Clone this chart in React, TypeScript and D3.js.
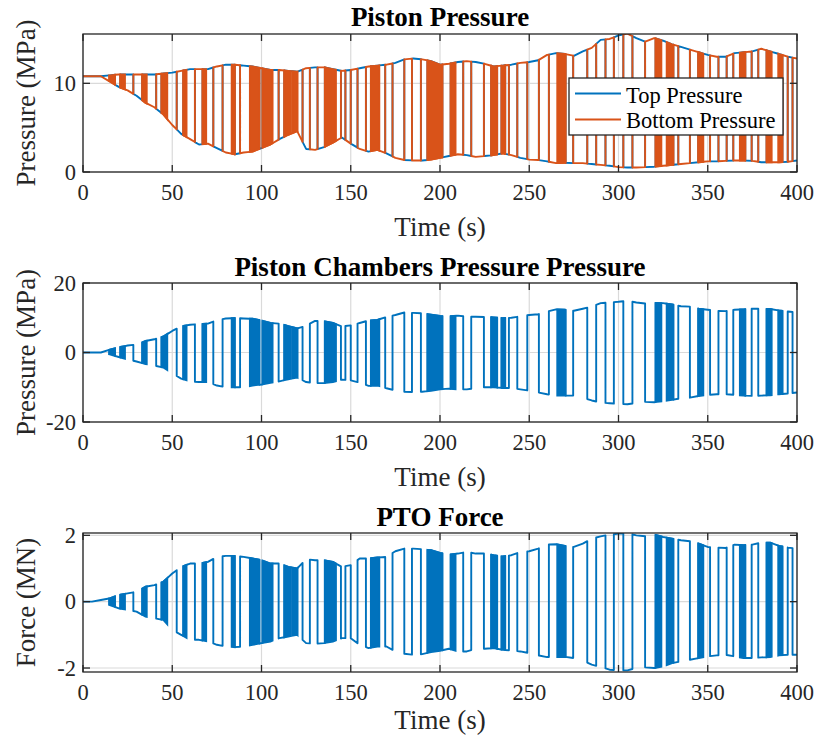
import React from "react";
import * as d3 from "d3";

// ---------- data ----------
const xTickValues = [0, 50, 100, 150, 200, 250, 300, 350, 400];

// envelope sample times (s)
const envT = d3.range(0, 401, 5);

// Panel 1: high and low pressure envelopes (MPa)
const pHigh = [10.8, 10.8, 10.8, 10.9, 11.0, 11.0, 11.0, 11.0, 11.0, 11.1, 11.2, 11.4, 11.6, 11.6, 11.6, 11.9, 12.1, 12.1, 12.0, 11.9,
  11.7, 11.5, 11.5, 11.4, 11.3, 11.7, 11.8, 11.8, 11.6, 11.4, 11.5, 11.7, 11.9, 12.0, 12.1, 12.3, 12.7, 12.8, 12.7, 12.5,
  12.1, 12.2, 12.4, 12.5, 12.4, 12.2, 11.9, 12.0, 12.1, 12.3, 12.4, 12.6, 13.2, 13.4, 13.3, 13.1, 13.6, 14.0, 14.9, 15.0,
  15.4, 15.6, 15.1, 14.7, 15.1, 14.8, 14.4, 14.1, 13.8, 13.5, 13.2, 13.0, 13.0, 13.4, 13.5, 13.6, 13.9, 13.6, 13.3, 13.0, 12.8];
const pLow = [10.8, 10.8, 10.8, 10.2, 9.6, 9.2, 8.6, 7.8, 7.3, 6.5, 5.3, 4.3, 3.7, 3.1, 3.2, 2.7, 2.2, 2.0, 2.2, 2.3,
  2.7, 3.1, 3.7, 4.2, 4.6, 2.6, 2.5, 2.8, 3.3, 3.9, 3.2, 2.6, 2.3, 2.5, 2.1, 1.6, 1.35, 1.3, 1.3, 1.4,
  1.6, 1.8, 2.0, 1.9, 1.7, 1.8, 1.9, 2.1, 1.9, 1.6, 1.4, 1.35, 1.2, 1.0, 1.05, 1.0, 1.0, 0.9, 0.8, 0.7,
  0.55, 0.5, 0.5, 0.55, 0.6, 0.7, 0.8, 0.9, 1.0, 1.1, 1.2, 1.2, 1.25, 1.3, 1.3, 1.25, 1.1, 1.1, 1.1, 1.15, 1.3];

// Panel 2: chamber pressure difference envelopes (MPa)
const dPos = [0, 0, 0, 0.8, 1.5, 2.0, 2.3, 3.3, 3.8, 4.6, 6.2, 7.5, 8.0, 8.2, 8.3, 9.3, 9.8, 9.9, 9.8, 9.7,
  9.2, 8.5, 8.3, 7.6, 6.9, 7.7, 9.1, 9.0, 8.5, 7.5, 7.8, 8.5, 9.2, 9.4, 10.2, 10.8, 11.5, 11.4, 11.3, 10.9,
  10.5, 10.4, 10.6, 10.3, 10.3, 10.2, 10.1, 9.9, 10.0, 10.4, 10.8, 11.0, 11.8, 12.4, 12.3, 12.0, 12.6, 13.2, 14.2, 14.4,
  14.6, 14.9, 14.4, 14.1, 14.3, 14.2, 13.8, 13.3, 13.2, 12.6, 12.3, 12.0, 11.9, 12.3, 12.4, 12.6, 12.6, 12.5, 12.1, 11.8, 11.5];
const dNeg = [0, 0, 0, -0.5, -1.3, -2.0, -2.6, -3.3, -3.8, -4.3, -6.0, -7.5, -8.3, -8.5, -8.5, -9.5, -10.0, -10.0, -10.0, -9.5,
  -9.2, -8.7, -8.3, -7.7, -7.2, -8.5, -8.8, -8.8, -8.5, -7.8, -8.0, -8.7, -9.6, -9.5, -10.3, -10.9, -11.3, -11.4, -11.3, -11.0,
  -10.6, -10.4, -10.6, -10.6, -10.3, -10.0, -10.0, -10.2, -10.2, -10.6, -11.0, -11.5, -12.0, -12.4, -12.4, -12.4, -13.0, -13.8, -14.4, -14.6,
  -14.8, -14.9, -14.5, -14.2, -14.3, -14.0, -13.6, -13.2, -13.0, -12.5, -12.2, -12.0, -12.0, -12.2, -12.4, -12.5, -12.4, -12.3, -12.0, -11.8, -11.5];

// Panel 3: PTO force envelopes (MN)
const fPos = [0, 0, 0.05, 0.1, 0.2, 0.25, 0.3, 0.45, 0.5, 0.6, 0.85, 1.05, 1.15, 1.15, 1.2, 1.35, 1.38, 1.38, 1.35, 1.3,
  1.25, 1.15, 1.15, 1.05, 1.0, 1.28, 1.25, 1.25, 1.2, 1.05, 1.1, 1.3, 1.3, 1.33, 1.35, 1.52, 1.6, 1.6, 1.58, 1.55,
  1.47, 1.42, 1.45, 1.5, 1.45, 1.45, 1.4, 1.36, 1.4, 1.5, 1.52, 1.6, 1.72, 1.73, 1.68, 1.65, 1.75, 1.9, 1.97, 2.02,
  2.05, 2.07, 2.0, 1.97, 2.02, 1.95, 1.9, 1.85, 1.82, 1.75, 1.65, 1.63, 1.62, 1.72, 1.7, 1.72, 1.78, 1.78, 1.68, 1.63, 1.6];
const fNeg = [0, 0, 0, -0.1, -0.2, -0.25, -0.3, -0.45, -0.5, -0.55, -0.85, -1.0, -1.15, -1.15, -1.2, -1.3, -1.35, -1.37, -1.35, -1.3,
  -1.25, -1.2, -1.1, -1.05, -1.0, -1.25, -1.27, -1.25, -1.2, -1.1, -1.1, -1.3, -1.4, -1.35, -1.35, -1.5, -1.57, -1.6, -1.58, -1.52,
  -1.48, -1.42, -1.5, -1.5, -1.42, -1.42, -1.4, -1.45, -1.47, -1.5, -1.55, -1.62, -1.67, -1.67, -1.66, -1.7, -1.77, -1.9, -1.97, -2.05,
  -2.07, -2.07, -2.0, -1.98, -2.0, -1.95, -1.85, -1.8, -1.75, -1.7, -1.65, -1.62, -1.6, -1.65, -1.7, -1.7, -1.68, -1.67, -1.62, -1.6, -1.6];

// Switching segments: start time (s) and state (H = top chamber high, L = top chamber low, D = rapid switching)
const segStart = [
  0, 14.6, 17.9, 20.9, 23.5, 28.2, 33.2, 35.7, 41, 44,
  47.2, 52.5, 56.2, 58, 62.7, 67, 69, 73, 78.2, 83.3,
  85, 88, 93.5, 98.8, 100.6, 106.2, 109.6, 112.8, 116.5, 117.4,
  120.2, 123, 127.1, 131.4, 135.5, 141.7, 144.5, 147, 150, 153.8,
  158.5, 161.3, 166, 169.3, 173.4, 180, 184.3, 189.3, 193, 201.3,
  206, 208.7, 213, 217.5, 224.6, 228.7, 232, 234.5, 236.5, 238.6,
  243.3, 248.9, 255.4, 261, 265.7, 270.3, 274.6, 282.5, 287.5, 292.7,
  297.4, 302.7, 307.8, 314.9, 320.8, 324, 327, 330.7, 333.5, 340,
  344.7, 347.5, 351.3, 356, 360.6, 364.3, 368, 371, 374.6, 378.3,
  383, 385.8, 389.5, 391.8, 394.8, 397.5];
const segState = [
  "H", "D", "L", "D", "H", "L", "D", "H", "L", "D",
  "H", "L", "D", "H", "L", "D", "H", "L", "H", "D",
  "L", "H", "D", "L", "D", "H", "L", "D", "H", "D",
  "H", "L", "H", "L", "D", "H", "L", "H", "L", "H",
  "L", "D", "H", "L", "H", "L", "H", "L", "D", "L",
  "D", "H", "L", "H", "L", "D", "L", "D", "L", "H",
  "L", "H", "L", "H", "D", "L", "H", "L", "H", "L",
  "H", "L", "H", "L", "D", "H", "D", "L", "H", "L",
  "D", "H", "L", "H", "L", "H", "D", "L", "H", "L",
  "D", "H", "D", "L", "H", "L"];

// ---------- helpers ----------
const BLUE = "#0072BD";
const ORANGE = "#D95319";
const AXIS = "#262626";
const GRID = "#dadada";
const FONT = "'Liberation Serif', 'Times New Roman', serif";
const LW = 1.9;

function envAt(env: number[], t: number) {
  let i = Math.floor(t / 5);
  if (i >= envT.length - 1) i = envT.length - 2;
  const f = (t - envT[i]) / 5;
  return env[i] + (env[i + 1] - env[i]) * f;
}

const segments = segStart.map((t0, i) => ({
  t0,
  t1: i < segStart.length - 1 ? segStart[i + 1] : 400,
  s: segState[i],
}));

function segTimes(t0: number, t1: number) {
  return [t0, ...envT.filter((t) => t > t0 && t < t1), t1];
}

function tracePoints(hi: number[], lo: number[], mapping: Record<string, "hi" | "lo">) {
  const pts: [number, number][] = [];
  segments.forEach((sg) => {
    const env = mapping[sg.s] === "hi" ? hi : lo;
    segTimes(sg.t0, sg.t1).forEach((t) => pts.push([t, envAt(env, t)]));
  });
  return pts;
}

const X0 = 83;
const X1 = 797;
const x = d3.scaleLinear().domain([0, 400]).range([X0, X1]);

type PanelCfg = {
  top: number;
  bottom: number;
  yDomain: [number, number];
  yTicks: number[];
  title: string;
  ylabel: string;
  titleY: number;
  xlabelY: number;
};

function Axes({ cfg, id, children }: { cfg: PanelCfg; id: string; children: (y: d3.ScaleLinear<number, number>) => React.ReactNode }) {
  const y = d3.scaleLinear().domain(cfg.yDomain).range([cfg.bottom, cfg.top]);
  const tick = 7;
  return (
    <g>
      <defs>
        <clipPath id={id}>
          <rect x={X0} y={cfg.top} width={X1 - X0} height={cfg.bottom - cfg.top} />
        </clipPath>
      </defs>
      <rect x={X0} y={cfg.top} width={X1 - X0} height={cfg.bottom - cfg.top} fill="#fff" />
      {xTickValues.map((v) => (
        <line key={"gx" + v} x1={x(v)} x2={x(v)} y1={cfg.top} y2={cfg.bottom} stroke={GRID} strokeWidth={1.2} />
      ))}
      {cfg.yTicks.map((v) => (
        <line key={"gy" + v} x1={X0} x2={X1} y1={y(v)} y2={y(v)} stroke={GRID} strokeWidth={1.2} />
      ))}
      <g clipPath={`url(#${id})`}>{children(y)}</g>
      <rect x={X0} y={cfg.top} width={X1 - X0} height={cfg.bottom - cfg.top} fill="none" stroke={AXIS} strokeWidth={1.3} />
      {xTickValues.map((v) => (
        <g key={"tx" + v}>
          <line x1={x(v)} x2={x(v)} y1={cfg.bottom} y2={cfg.bottom - tick} stroke={AXIS} strokeWidth={1.3} />
          <line x1={x(v)} x2={x(v)} y1={cfg.top} y2={cfg.top + tick} stroke={AXIS} strokeWidth={1.3} />
          <text x={x(v)} y={cfg.bottom + 28} textAnchor="middle" fontSize={22.5} fontFamily={FONT} fill={AXIS}>
            {v}
          </text>
        </g>
      ))}
      {cfg.yTicks.map((v) => (
        <g key={"ty" + v}>
          <line x1={X0} x2={X0 + tick} y1={y(v)} y2={y(v)} stroke={AXIS} strokeWidth={1.3} />
          <line x1={X1} x2={X1 - tick} y1={y(v)} y2={y(v)} stroke={AXIS} strokeWidth={1.3} />
          <text x={X0 - 7} y={y(v) + 7.5} textAnchor="end" fontSize={22.5} fontFamily={FONT} fill={AXIS}>
            {v}
          </text>
        </g>
      ))}
      <text x={(X0 + X1) / 2} y={cfg.titleY} textAnchor="middle" fontSize={27} fontWeight="bold" fontFamily={FONT} fill="#000">
        {cfg.title}
      </text>
      <text x={(X0 + X1) / 2} y={cfg.xlabelY} textAnchor="middle" fontSize={27} fontFamily={FONT} fill={AXIS}>
        Time (s)
      </text>
      <text
        transform={`translate(${35},${(cfg.top + cfg.bottom) / 2}) rotate(-90)`}
        textAnchor="middle"
        fontSize={27}
        fontFamily={FONT}
        fill={AXIS}
      >
        {cfg.ylabel}
      </text>
    </g>
  );
}

function SwitchLayer({
  y,
  hi,
  lo,
  color,
  fill,
  mapping,
}: {
  y: d3.ScaleLinear<number, number>;
  hi: number[];
  lo: number[];
  color: string;
  fill: boolean;
  mapping: Record<string, "hi" | "lo">;
}) {
  const line = d3
    .line<[number, number]>()
    .x((d) => x(d[0]))
    .y((d) => y(d[1]));
  const area = d3
    .area<number>()
    .x((t) => x(t))
    .y0((t) => y(envAt(lo, t)))
    .y1((t) => y(envAt(hi, t)));
  return (
    <g>
      <path d={line(tracePoints(hi, lo, mapping)) || ""} fill="none" stroke={color} strokeWidth={LW} strokeLinejoin="round" />
      {fill &&
        segments
          .filter((s) => s.s === "D")
          .map((s, i) => (
            <path key={i} d={area(segTimes(s.t0, s.t1)) || ""} fill={color} stroke={color} strokeWidth={LW} />
          ))}
    </g>
  );
}

const panel1: PanelCfg = {
  top: 34, bottom: 172, yDomain: [0, 15.56], yTicks: [0, 10],
  title: "Piston Pressure", ylabel: "Pressure (MPa)", titleY: 26, xlabelY: 236,
};
const panel2: PanelCfg = {
  top: 283, bottom: 422, yDomain: [-20, 20], yTicks: [-20, 0, 20],
  title: "Piston Chambers Pressure Pressure", ylabel: "Pressure (MPa)", titleY: 276, xlabelY: 486,
};
const panel3: PanelCfg = {
  top: 533, bottom: 672, yDomain: [-2.12, 2.07], yTicks: [-2, 0, 2],
  title: "PTO Force", ylabel: "Force (MN)", titleY: 526, xlabelY: 729,
};

export default function App() {
  return (
    <div style={{ position: "absolute", left: 0, top: 0 }}>
      <svg width={815} height={745} style={{ display: "block", background: "#fff" }}>
        <Axes cfg={panel1} id="clip1">
          {(y) => (
            <g>
              <SwitchLayer y={y} hi={pHigh} lo={pLow} color={BLUE} fill={false} mapping={{ H: "hi", L: "lo", D: "hi" }} />
              <SwitchLayer y={y} hi={pHigh} lo={pLow} color={ORANGE} fill={true} mapping={{ H: "lo", L: "hi", D: "lo" }} />
            </g>
          )}
        </Axes>
        <Axes cfg={panel2} id="clip2">
          {(y) => <SwitchLayer y={y} hi={dPos} lo={dNeg} color={BLUE} fill={true} mapping={{ H: "hi", L: "lo", D: "hi" }} />}
        </Axes>
        <Axes cfg={panel3} id="clip3">
          {(y) => <SwitchLayer y={y} hi={fPos} lo={fNeg} color={BLUE} fill={true} mapping={{ H: "hi", L: "lo", D: "hi" }} />}
        </Axes>
        {/* legend */}
        <g>
          <rect x={569} y={78} width={214} height={57} fill="#fff" stroke={AXIS} strokeWidth={1.3} />
          <line x1={575} x2={621} y1={93.5} y2={93.5} stroke={BLUE} strokeWidth={LW} />
          <text x={626} y={103} fontSize={22.5} fontFamily={FONT} fill="#000">Top Pressure</text>
          <line x1={575} x2={621} y1={119.5} y2={119.5} stroke={ORANGE} strokeWidth={LW} />
          <text x={626} y={128} fontSize={22.5} fontFamily={FONT} fill="#000">Bottom Pressure</text>
        </g>
      </svg>
    </div>
  );
}
